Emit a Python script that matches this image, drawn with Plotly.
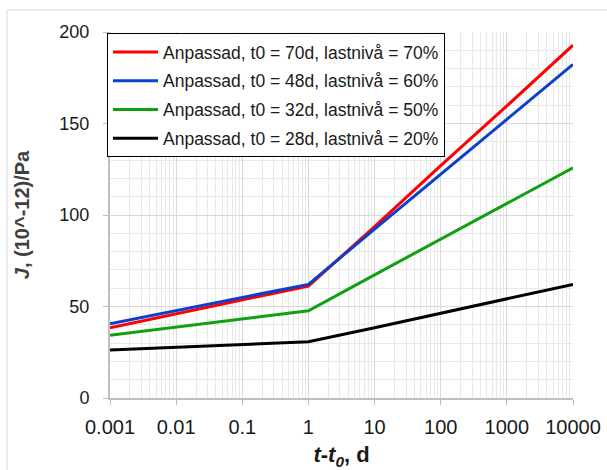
import plotly.graph_objects as go

# Time since loading, t - t0 (days), one point per decade
t_days = [0.001, 0.01, 0.1, 1, 10, 100, 1000, 10000]
tick_labels = ["0.001", "0.01", "0.1", "1", "10", "100", "1000", "10000"]

# Creep compliance J, (10^-12)/Pa
j_t70_70 = [38.4, 46.0, 53.6, 61.2, 93.6, 127.0, 159.6, 192.8]
j_t48_60 = [40.6, 47.8, 55.0, 62.1, 92.3, 122.5, 152.3, 182.3]
j_t32_50 = [34.3, 38.8, 43.3, 47.7, 67.3, 86.8, 106.3, 125.8]
j_t28_20 = [26.2, 27.7, 29.2, 30.7, 38.4, 46.2, 54.1, 62.1]

series_names = [
    "Anpassad, t0 = 70d, lastnivå = 70%",
    "Anpassad, t0 = 48d, lastnivå = 60%",
    "Anpassad, t0 = 32d, lastnivå = 50%",
    "Anpassad, t0 = 28d, lastnivå = 20%",
]
series_values = [j_t70_70, j_t48_60, j_t32_50, j_t28_20]
series_colors = ["#ff0000", "#0a3fd0", "#10a010", "#000000"]

FONT = "Liberation Sans, Arial, sans-serif"

fig = go.Figure()
for name, vals, col in zip(series_names, series_values, series_colors):
    fig.add_trace(go.Scatter(
        x=t_days, y=vals, mode="lines", name=name,
        line=dict(color=col, width=3),
        legendgroup=name,
    ))

W, H = 607, 470
L, R, T, B = 110, 34, 32, 72
pw, ph = W - L - R, H - T - B

fig.update_layout(
    width=W, height=H,
    margin=dict(l=L, r=R, t=T, b=B, autoexpand=False),
    paper_bgcolor="white", plot_bgcolor="white",
    font=dict(family=FONT, color="#1a1a1a"),
    showlegend=True,
    legend=dict(
        x=-3 / pw, y=1 - 1 / ph, xanchor="left", yanchor="top",
        bgcolor="white", bordercolor="#000000", borderwidth=1,
        font=dict(size=17.5, color="#1a1a1a", family=FONT),
        tracegroupgap=3, itemwidth=45,
    ),
    xaxis=dict(
        type="log", range=[-3, 4], automargin=False,
        tickmode="array", tickvals=t_days, ticktext=tick_labels,
        tickfont=dict(size=20),
        ticks="outside", ticklen=5, tickcolor="#bfbfbf",
        ticklabelstandoff=5,
        showline=True, linecolor="#bfbfbf", linewidth=2,
        showgrid=True, gridcolor="#d9d9d9", gridwidth=1,
        minor=dict(showgrid=True, dtick="D1", gridcolor="#e8e8e8", gridwidth=1),
        zeroline=False,
        title=dict(text="<b><i>t</i>-<i>t<sub>0</sub></i>, d</b>",
                   font=dict(size=22, color="#1a1a1a"), standoff=12),
    ),
    yaxis=dict(
        range=[0, 200], dtick=50, automargin=False,
        tickfont=dict(size=18),
        ticks="outside", ticklen=5, tickcolor="#bfbfbf",
        ticklabelstandoff=10,
        showline=True, linecolor="#bfbfbf", linewidth=2,
        showgrid=True, gridcolor="#d9d9d9", gridwidth=1,
        minor=dict(showgrid=True, dtick=10, gridcolor="#e8e8e8", gridwidth=1),
        zeroline=False,
        title=dict(text="<b><i>J</i>, (10^-12)/Pa</b>",
                   font=dict(size=20, color="#404040"), standoff=24),
    ),
)

# Light frame around the whole chart
fig.add_shape(
    type="rect", xref="paper", yref="paper",
    x0=(7 - L) / pw, x1=(W + 5 - L) / pw,
    y0=-(B + 5) / ph, y1=1 + (T - 10) / ph,
    line=dict(color="#d9d9d9", width=1), fillcolor="rgba(0,0,0,0)",
    layer="below",
)

fig.write_html("out.html")
